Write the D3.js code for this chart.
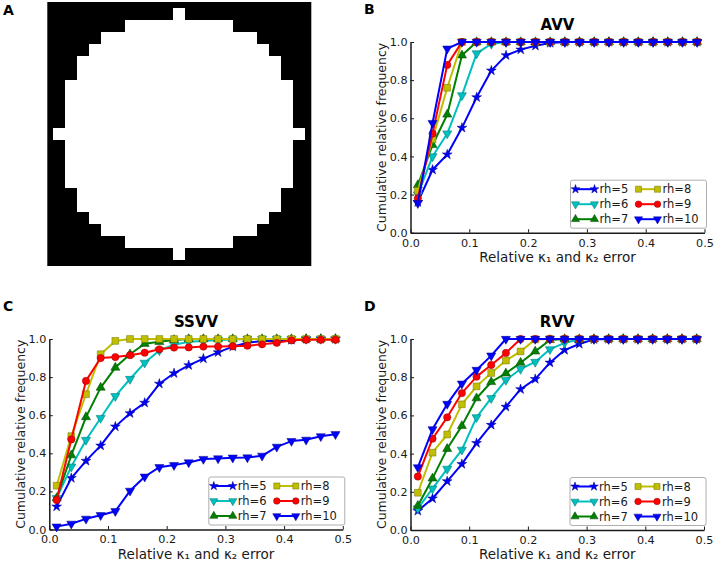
<!DOCTYPE html>
<html>
<head>
<meta charset="utf-8">
<script src="https://cdn.jsdelivr.net/npm/d3@7"></script>
<style>
  html, body { margin: 0; padding: 0; background: #fff; }
  svg { display: block; font-family: "DejaVu Sans", sans-serif; }
</style>
</head>
<body>
<svg id="chart" width="714" height="564"></svg>
<script>
// ---------------- DATA ----------------
// Panel A: binary image, half-width (in cells) of the white region for each of 21 rows, centred on column 10
const maskHalfWidths = [0, 4, 6, 7, 8, 8, 9, 9, 9, 9, 10, 9, 9, 9, 9, 8, 8, 7, 6, 4, 0];

// x positions (relative curvature error bins)
const errorBins = [0.0125, 0.0375, 0.0625, 0.0875, 0.1125, 0.1375, 0.1625, 0.1875, 0.2125, 0.2375,
                   0.2625, 0.2875, 0.3125, 0.3375, 0.3625, 0.3875, 0.4125, 0.4375, 0.4625, 0.4875];

const seriesNames = ["rh=5", "rh=6", "rh=7", "rh=8", "rh=9", "rh=10"];
const xTicks = [0.0, 0.1, 0.2, 0.3, 0.4, 0.5];
const yTicks = [0.0, 0.2, 0.4, 0.6, 0.8, 1.0];

// Panel B: AVV
const avvRh5  = [0.16, 0.33, 0.41, 0.55, 0.71, 0.85, 0.93, 0.96, 0.98, 0.995, 1, 1, 1, 1, 1, 1, 1, 1, 1, 1];
const avvRh6  = [0.20, 0.40, 0.52, 0.72, 0.94, 0.99, 1, 1, 1, 1, 1, 1, 1, 1, 1, 1, 1, 1, 1, 1];
const avvRh7  = [0.25, 0.46, 0.62, 0.93, 1, 1, 1, 1, 1, 1, 1, 1, 1, 1, 1, 1, 1, 1, 1, 1];
const avvRh8  = [0.22, 0.49, 0.76, 1, 1, 1, 1, 1, 1, 1, 1, 1, 1, 1, 1, 1, 1, 1, 1, 1];
const avvRh9  = [0.18, 0.52, 0.88, 1, 1, 1, 1, 1, 1, 1, 1, 1, 1, 1, 1, 1, 1, 1, 1, 1];
const avvRh10 = [0.155, 0.575, 0.965, 1, 1, 1, 1, 1, 1, 1, 1, 1, 1, 1, 1, 1, 1, 1, 1, 1];

// Panel C: SSVV
const ssvvRh5  = [0.12, 0.27, 0.36, 0.44, 0.54, 0.61, 0.665, 0.765, 0.82, 0.862, 0.897, 0.93, 0.96, 0.98, 0.99, 0.99, 0.995, 1, 1, 1];
const ssvvRh6  = [0.165, 0.33, 0.47, 0.585, 0.70, 0.79, 0.875, 0.94, 0.97, 0.985, 0.99, 0.995, 0.997, 1, 1, 1, 1, 1, 1, 1];
const ssvvRh7  = [0.165, 0.39, 0.59, 0.745, 0.85, 0.92, 0.975, 0.985, 0.995, 1, 1, 1, 1, 1, 1, 1, 1, 1, 1, 1];
const ssvvRh8  = [0.23, 0.49, 0.71, 0.92, 0.99, 1, 1, 1, 1, 1, 1, 1, 1, 1, 1, 1, 1, 1, 1, 1];
const ssvvRh9  = [0.155, 0.473, 0.78, 0.90, 0.905, 0.915, 0.928, 0.946, 0.955, 0.956, 0.96, 0.96, 0.962, 0.965, 0.972, 0.98, 0.993, 0.996, 0.996, 0.996];
const ssvvRh10 = [0.015, 0.03, 0.056, 0.075, 0.096, 0.203, 0.277, 0.327, 0.338, 0.352, 0.37, 0.373, 0.377, 0.378, 0.387, 0.434, 0.464, 0.471, 0.489, 0.50];

// Panel D: RVV
const rvvRh5  = [0.10, 0.165, 0.255, 0.345, 0.455, 0.55, 0.645, 0.737, 0.79, 0.876, 0.942, 0.974, 0.998, 1, 1, 1, 1, 1, 1, 1];
const rvvRh6  = [0.113, 0.217, 0.32, 0.42, 0.59, 0.69, 0.785, 0.843, 0.88, 0.946, 0.98, 0.997, 1, 1, 1, 1, 1, 1, 1, 1];
const rvvRh7  = [0.127, 0.27, 0.425, 0.545, 0.69, 0.775, 0.82, 0.876, 0.935, 0.995, 1, 1, 1, 1, 1, 1, 1, 1, 1, 1];
const rvvRh8  = [0.195, 0.405, 0.50, 0.658, 0.752, 0.822, 0.887, 0.935, 0.998, 1, 1, 1, 1, 1, 1, 1, 1, 1, 1, 1];
const rvvRh9  = [0.28, 0.478, 0.59, 0.717, 0.803, 0.864, 0.927, 1, 1, 1, 1, 1, 1, 1, 1, 1, 1, 1, 1, 1];
const rvvRh10 = [0.328, 0.527, 0.66, 0.766, 0.838, 0.913, 1, 1, 1, 1, 1, 1, 1, 1, 1, 1, 1, 1, 1, 1];

// ---------------- STYLE ----------------
const seriesStyle = [
  { color: "#0000ff", edge: "#000080", symbol: d3.symbolStar,     size: 30, rot: 0 },
  { color: "#00bfbf", edge: "#007070", symbol: d3.symbolTriangle, size: 36, rot: 180 },
  { color: "#008000", edge: "#004000", symbol: d3.symbolTriangle, size: 36, rot: 0 },
  { color: "#bfbf00", edge: "#707000", symbol: d3.symbolSquare,   size: 46, rot: 0 },
  { color: "#ff0000", edge: "#900000", symbol: d3.symbolCircle,   size: 42, rot: 0 },
  { color: "#0000ff", edge: "#000080", symbol: d3.symbolTriangle, size: 36, rot: 180 }
];

const svg = d3.select("#chart");
const textColor = "#1a1a1a";

function panelLabel(txt, x, y) {
  svg.append("text").attr("x", x).attr("y", y)
    .attr("font-size", 14).attr("font-weight", "bold").attr("fill", "#000").text(txt);
}

// ---------------- PANEL A ----------------
(function () {
  const n = maskHalfWidths.length;
  const cx = d3.scaleBand().domain(d3.range(n)).range([53.3, 305.3]);
  const cy = d3.scaleBand().domain(d3.range(n)).range([8, 260]);
  const s = cx.step();
  const g = svg.append("g");
  g.append("rect")
    .attr("x", cx(0) - s / 2).attr("y", cy(0) - s / 2)
    .attr("width", s * (n + 1)).attr("height", s * (n + 1))
    .attr("fill", "#000");
  const centre = (n - 1) / 2;
  g.selectAll("rect.row").data(maskHalfWidths).join("rect")
    .attr("class", "row")
    .attr("x", h => cx(centre - h))
    .attr("y", (h, i) => cy(i))
    .attr("width", h => s * (2 * h + 1))
    .attr("height", cy.bandwidth())
    .attr("fill", "#fff")
    .attr("shape-rendering", "crispEdges");
  panelLabel("A", 3, 15);
})();

// ---------------- LINE PANELS ----------------
function drawPanel(cfg) {
  const x = d3.scaleLinear().domain([0, 0.5]).range([cfg.x0, cfg.x0 + cfg.w]);
  const y = d3.scaleLinear().domain([0, 1]).range([cfg.yBot, cfg.yTop]);
  const g = svg.append("g");

  // axes (left & bottom only, ticks inward)
  const xAxis = d3.axisBottom(x).tickValues(xTicks).tickFormat(d3.format(".1f"))
    .tickSizeInner(-3.5).tickSizeOuter(0).tickPadding(6);
  const yAxis = d3.axisLeft(y).tickValues(yTicks).tickFormat(d3.format(".1f"))
    .tickSizeInner(-3.5).tickSizeOuter(0).tickPadding(3);

  const gx = g.append("g").attr("transform", `translate(0,${cfg.yBot})`).call(xAxis);
  const gy = g.append("g").attr("transform", `translate(${cfg.x0},0)`).call(yAxis);
  [gx, gy].forEach(a => {
    a.selectAll("path.domain").attr("stroke", "#1a1a1a").attr("stroke-width", 1.5);
    a.selectAll(".tick line").attr("stroke", "#1a1a1a").attr("stroke-width", 1);
    a.selectAll(".tick text").attr("font-size", 11.2).attr("fill", textColor)
      .attr("font-family", "DejaVu Sans, sans-serif");
  });

  // title
  g.append("text").attr("x", cfg.x0 + cfg.w / 2).attr("y", cfg.yTop - 12.5)
    .attr("text-anchor", "middle").attr("font-size", 15).attr("font-weight", "bold")
    .attr("fill", "#000").text(cfg.title);

  // axis labels
  g.append("text").attr("x", cfg.x0 + cfg.w / 2).attr("y", cfg.yBot + 29)
    .attr("text-anchor", "middle").attr("font-size", 13.5).attr("fill", textColor)
    .text("Relative κ₁ and κ₂ error");
  g.append("text")
    .attr("transform", `translate(${cfg.x0 - 29},${(cfg.yTop + cfg.yBot) / 2}) rotate(-90)`)
    .attr("text-anchor", "middle").attr("dy", "0.36em").attr("font-size", 12.5).attr("fill", textColor)
    .text("Cumulative relative frequency");

  // series
  const line = d3.line().x((d, i) => x(errorBins[i])).y(d => y(d));
  cfg.series.forEach((vals, k) => {
    const st = seriesStyle[k];
    const sg = g.append("g");
    sg.append("path").datum(vals).attr("d", line)
      .attr("fill", "none").attr("stroke", st.color).attr("stroke-width", 2)
      .attr("stroke-linejoin", "round");
    sg.selectAll("path.m").data(vals).join("path").attr("class", "m")
      .attr("d", d3.symbol().type(st.symbol).size(st.size))
      .attr("transform", (d, i) => `translate(${x(errorBins[i])},${y(d)}) rotate(${st.rot})`)
      .attr("fill", st.color).attr("stroke", st.edge).attr("stroke-width", 0.5);
  });

  // legend
  const lw = 136, lh = 48;
  const lx = cfg.x0 + cfg.w - lw + 2, ly = cfg.yBot - lh - 4.5;
  const lg = g.append("g").attr("transform", `translate(${lx},${ly})`);
  lg.append("rect").attr("width", lw).attr("height", lh).attr("rx", 2)
    .attr("fill", "#fff").attr("stroke", "#999").attr("stroke-width", 0.8);
  seriesNames.forEach((name, k) => {
    const st = seriesStyle[k];
    const col = Math.floor(k / 3), row = k % 3;
    const ox = col === 0 ? 5 : 68;
    const oy = 9 + row * 15;
    const e = lg.append("g").attr("transform", `translate(${ox},${oy})`);
    e.append("line").attr("x1", 0).attr("x2", 19).attr("y1", 0).attr("y2", 0)
      .attr("stroke", st.color).attr("stroke-width", 2);
    [0, 19].forEach(px => {
      e.append("path").attr("d", d3.symbol().type(st.symbol).size(st.size * 0.8))
        .attr("transform", `translate(${px},0) rotate(${st.rot})`)
        .attr("fill", st.color).attr("stroke", st.edge).attr("stroke-width", 0.5);
    });
    e.append("text").attr("x", 24).attr("y", 0).attr("dy", "0.36em")
      .attr("font-size", 11.5).attr("fill", textColor).text(name);
  });

  panelLabel(cfg.label, cfg.lx, cfg.ly);
}

drawPanel({ label: "B", lx: 364, ly: 14, title: "AVV", x0: 410.5, w: 294, yTop: 42, yBot: 232.7,
  series: [avvRh5, avvRh6, avvRh7, avvRh8, avvRh9, avvRh10] });
drawPanel({ label: "C", lx: 3, ly: 310.5, title: "SSVV", x0: 49.3, w: 293.5, yTop: 339, yBot: 529.5,
  series: [ssvvRh5, ssvvRh6, ssvvRh7, ssvvRh8, ssvvRh9, ssvvRh10] });
drawPanel({ label: "D", lx: 364, ly: 310.5, title: "RVV", x0: 410.5, w: 293.5, yTop: 339, yBot: 530,
  series: [rvvRh5, rvvRh6, rvvRh7, rvvRh8, rvvRh9, rvvRh10] });
</script>
</body>
</html>
